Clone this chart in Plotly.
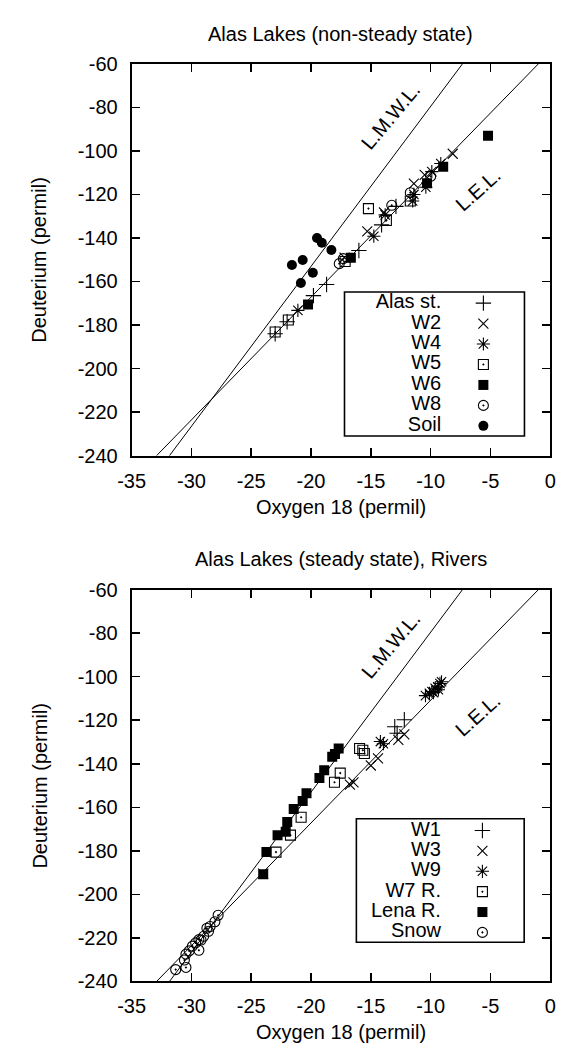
import plotly.graph_objects as go

# ---------------- data: top panel (non-steady state) ----------------
alas_x = [-23.0, -22.0, -19.8, -18.7, -16.0, -14.1, -12.9]
alas_y = [-184.0, -178.5, -166.5, -161.4, -145.8, -134.0, -125.5]
w2_x = [-17.2, -15.3, -13.9, -11.4, -10.5, -8.15]
w2_y = [-149.0, -137.0, -128.3, -115.0, -111.0, -101.3]
w4_x = [-21.1, -14.75, -13.8, -11.5, -11.4, -10.4, -9.9, -9.15]
w4_y = [-173.3, -139.2, -129.4, -123.0, -120.0, -116.7, -109.5, -105.8]
w5_x = [-23.0, -21.9, -17.15, -15.2, -13.7, -11.7]
w5_y = [-183.2, -177.7, -150.8, -126.5, -132.0, -123.0]
w6_x = [-20.25, -16.67, -10.3, -8.95, -5.2]
w6_y = [-170.6, -149.1, -114.9, -107.3, -93.0]
w8_x = [-17.64, -17.3, -13.25, -11.7, -10.0]
w8_y = [-151.8, -149.5, -125.0, -119.2, -111.7]
soil_x = [-21.6, -20.7, -19.5, -19.1, -18.3, -19.85, -20.85]
soil_y = [-152.4, -150.1, -140.0, -142.2, -145.5, -156.0, -160.7]

# ---------------- data: bottom panel (steady state, rivers) ----------------
w1_x = [-13.0, -12.2, -12.8]
w1_y = [-123.0, -119.8, -126.0]
w3_x = [-24.0, -16.75, -16.45, -15.0, -14.4, -12.7, -12.2]
w3_y = [-190.5, -149.6, -148.6, -140.8, -137.5, -129.0, -126.5]
w9_x = [-10.43, -10.1, -9.89, -9.76, -9.62, -9.41, -9.22, -9.09, -9.35, -14.2, -13.95]
w9_y = [-108.7, -107.6, -106.8, -107.3, -105.3, -104.6, -103.1, -102.3, -106.0, -129.8, -130.8]
w7_x = [-15.94, -15.67, -15.54, -17.56, -18.04, -20.83, -21.72, -22.93]
w7_y = [-133.0, -133.8, -135.3, -144.3, -148.5, -164.6, -172.8, -180.6]
lena_x = [-17.69, -18.0, -18.23, -18.9, -19.3, -20.38, -20.7, -21.45, -21.99, -22.12, -22.8, -23.73, -24.0]
lena_y = [-133.0, -135.5, -136.8, -143.0, -146.5, -153.6, -157.1, -160.8, -166.8, -171.3, -172.8, -180.6, -190.8]
snow_x = [-27.77, -28.04, -28.44, -28.71, -28.57, -28.98, -29.2, -29.38, -29.65, -29.38,
          -29.92, -30.19, -30.46, -30.59, -30.46, -31.32]
snow_y = [-209.6, -212.6, -214.8, -215.6, -217.0, -219.3, -221.0, -220.8, -222.3, -225.7,
          -223.8, -226.0, -227.5, -230.2, -233.6, -234.6]

# reference lines  (delta D = slope * delta18O + intercept)
lmwl_slope, lmwl_icpt = 7.35, -6.05
lel_slope, lel_icpt = 5.64, -54.4
line_x = [-40.0, 5.0]

x_ticks = [-35, -30, -25, -20, -15, -10, -5, 0]
x_tick_text = ["-35", "-30", "-25", "-20", "-15", "-10", "-5", "0"]
y_ticks = [-60, -80, -100, -120, -140, -160, -180, -200, -220, -240]
y_tick_text = ["-60", "-80", "-100", "-120", "-140", "-160", "-180", "-200", "-220", "-240"]

top_names = ["Alas st.", "W2", "W4", "W5", "W6", "W8", "Soil"]
bot_names = ["W1", "W3", "W9", "W7 R.", "Lena R.", "Snow"]

# ---------------- geometry ----------------
W, H = 562, 1056
FONT = "Liberation Sans, Arial, sans-serif"
FS = 20
px_x = lambda p: p / W
px_y = lambda p: 1 - p / H

x_dom = [px_x(122), px_x(556)]
top_dom = [px_y(454), px_y(54)]
bot_dom = [px_y(991), px_y(591)]

symbols = {
    "plus": dict(symbol="cross-thin", size=11, color="black", line=dict(color="black", width=1.1)),
    "x": dict(symbol="x-thin", size=10, color="black", line=dict(color="black", width=1.1)),
    "ast": dict(symbol="asterisk", size=11, color="black", line=dict(color="black", width=1.1)),
    "osq": dict(symbol="square-open-dot", size=10, color="black", line=dict(color="black", width=1.1)),
    "fsq": dict(symbol="square", size=10, color="black", line=dict(color="black", width=0)),
    "ocir": dict(symbol="circle-open-dot", size=10, color="black", line=dict(color="black", width=1.1)),
    "fcir": dict(symbol="circle", size=10, color="black", line=dict(color="black", width=0)),
}

fig = go.Figure()

def add_series(xs, ys, key, xa, ya):
    fig.add_trace(go.Scatter(x=xs, y=ys, mode="markers", marker=symbols[key],
                             xaxis=xa, yaxis=ya, showlegend=False, cliponaxis=True))

def add_lines(xa, ya):
    for s, c in [(lmwl_slope, lmwl_icpt), (lel_slope, lel_icpt)]:
        fig.add_trace(go.Scatter(x=line_x, y=[s * v + c for v in line_x], mode="lines",
                                 line=dict(color="black", width=1), xaxis=xa, yaxis=ya,
                                 showlegend=False, hoverinfo="skip"))

# top panel
add_lines("x", "y")
top_series = [(alas_x, alas_y, "plus"), (w2_x, w2_y, "x"), (w4_x, w4_y, "ast"),
              (w5_x, w5_y, "osq"), (w6_x, w6_y, "fsq"), (w8_x, w8_y, "ocir"),
              (soil_x, soil_y, "fcir")]
for xs, ys, k in top_series:
    add_series(xs, ys, k, "x", "y")

# bottom panel
add_lines("x2", "y2")
bot_series = [(w1_x, w1_y, "plus"), (w3_x, w3_y, "x"), (w9_x, w9_y, "ast"),
              (w7_x, w7_y, "osq"), (lena_x, lena_y, "fsq"), (snow_x, snow_y, "ocir")]
for xs, ys, k in bot_series:
    add_series(xs, ys, k, "x2", "y2")

# custom gnuplot-style legends (text right-aligned, key symbol to the right)
def add_legend(names, keys, xa, ya):
    rows = list(range(len(names)))
    fig.add_trace(go.Scatter(x=[0.0] * len(names), y=rows, mode="text", text=names,
                             textposition="middle left",
                             textfont=dict(family=FONT, size=FS, color="black"),
                             xaxis=xa, yaxis=ya, showlegend=False, hoverinfo="skip",
                             cliponaxis=False))
    for r, k in zip(rows, keys):
        fig.add_trace(go.Scatter(x=[1.0], y=[r], mode="markers", marker=symbols[k],
                                 xaxis=xa, yaxis=ya, showlegend=False, hoverinfo="skip",
                                 cliponaxis=False))

add_legend(top_names, [s[2] for s in top_series], "x3", "y3")
add_legend(bot_names, [s[2] for s in bot_series], "x4", "y4")

# legend boxes (pixel geometry)
tb = dict(x0=342.7, x1=529.3, y0=287.0, y1=434.0, tx=443.0, sx=486.7, r0=298.3, dr=20.9, n=7)
bb = dict(x0=355.0, x1=529.0, y0=825.0, y1=951.0, tx=442.7, sx=485.7, r0=837.0, dr=20.8, n=6)

def leg_axes(b):
    # legend axis: x=0 -> text right edge, x=1 -> symbol centre; y=row index
    x_lo = (b["x0"] - b["tx"]) / (b["sx"] - b["tx"])
    x_hi = (b["x1"] - b["tx"]) / (b["sx"] - b["tx"])
    y_top = (b["y0"] - b["r0"]) / b["dr"]
    y_bot = (b["y1"] - b["r0"]) / b["dr"]
    xd = [px_x(b["x0"]), px_x(b["x1"])]
    yd = [px_y(b["y1"]), px_y(b["y0"])]
    return xd, yd, [x_lo, x_hi], [y_bot, y_top]

shapes = []
for b in (tb, bb):
    shapes.append(dict(type="rect", xref="paper", yref="paper",
                       x0=px_x(b["x0"]), x1=px_x(b["x1"]), y0=px_y(b["y1"]), y1=px_y(b["y0"]),
                       line=dict(color="black", width=1.6), fillcolor="white", layer="below"))

axis_common = dict(
    showline=True, linecolor="black", linewidth=2, mirror="ticks",
    ticks="inside", ticklen=8, tickwidth=1.5, tickcolor="black",
    showgrid=False, zeroline=False,
    tickfont=dict(family=FONT, size=FS, color="black"),
)

xd3, yd3, xr3, yr3 = leg_axes(tb)
xd4, yd4, xr4, yr4 = leg_axes(bb)
hidden = dict(visible=False, showgrid=False, zeroline=False, fixedrange=True)

fig.update_layout(
    width=W, height=H, autosize=False,
    margin=dict(l=0, r=0, t=0, b=0),
    paper_bgcolor="white", plot_bgcolor="rgba(0,0,0,0)",
    font=dict(family=FONT, size=FS, color="black"),
    xaxis=dict(domain=x_dom, range=[-35, 0], tickvals=x_ticks, ticktext=x_tick_text,
               anchor="y", ticklabelstandoff=6, **axis_common),
    yaxis=dict(domain=top_dom, range=[-240, -60], tickvals=y_ticks, ticktext=y_tick_text,
               anchor="x", ticklabelstandoff=8, **axis_common),
    xaxis2=dict(domain=x_dom, range=[-35, 0], tickvals=x_ticks, ticktext=x_tick_text,
                anchor="y2", ticklabelstandoff=6, **axis_common),
    yaxis2=dict(domain=bot_dom, range=[-240, -60], tickvals=y_ticks, ticktext=y_tick_text,
                anchor="x2", ticklabelstandoff=8, **axis_common),
    xaxis3=dict(domain=xd3, range=xr3, anchor="y3", **hidden),
    yaxis3=dict(domain=yd3, range=yr3, anchor="x3", **hidden),
    xaxis4=dict(domain=xd4, range=xr4, anchor="y4", **hidden),
    yaxis4=dict(domain=yd4, range=yr4, anchor="x4", **hidden),
    shapes=shapes,
)

# titles and axis labels
ann = []
cx = px_x((122 + 556) / 2)
for title, ty, xl_y, yl_y in [("Alas Lakes (non-steady state)", 23, 507, 254),
                              ("Alas Lakes (steady state), Rivers", 560, 1043, 791)]:
    ann.append(dict(text=title, x=cx, y=px_y(ty), xref="paper", yref="paper",
                    showarrow=False, xanchor="center", yanchor="middle",
                    font=dict(family=FONT, size=FS, color="black")))
    ann.append(dict(text="Oxygen 18 (permil)", x=cx, y=px_y(xl_y), xref="paper", yref="paper",
                    showarrow=False, xanchor="center", yanchor="middle",
                    font=dict(family=FONT, size=FS, color="black")))
    ann.append(dict(text="Deuterium (permil)", x=px_x(26), y=px_y(yl_y), xref="paper",
                    yref="paper", showarrow=False, textangle=-90, xanchor="center",
                    yanchor="middle", font=dict(family=FONT, size=FS, color="black")))

# line labels
line_labels = ["L.M.W.L.", "L.E.L."]
label_x = [-13.33, -6.07]
label_y_top = [-84.0, -117.9]
label_y_bot = [-85.3, -117.7]
label_angle = [-50, -42]
for xa, ya, ly in [("x", "y", label_y_top), ("x2", "y2", label_y_bot)]:
    for t, lx, lyy, ang in zip(line_labels, label_x, ly, label_angle):
        ann.append(dict(text=t, x=lx, y=lyy, xref=xa, yref=ya, showarrow=False,
                        textangle=ang, xanchor="center", yanchor="middle",
                        font=dict(family=FONT, size=FS, color="black")))

fig.update_layout(annotations=ann)
fig.write_html(
    "out.html",
    config={"displayModeBar": False, "staticPlot": True},
    post_script="document.body.style.margin='0';"
                "document.documentElement.style.overflow='hidden';"
                "document.body.style.overflow='hidden';",
)
